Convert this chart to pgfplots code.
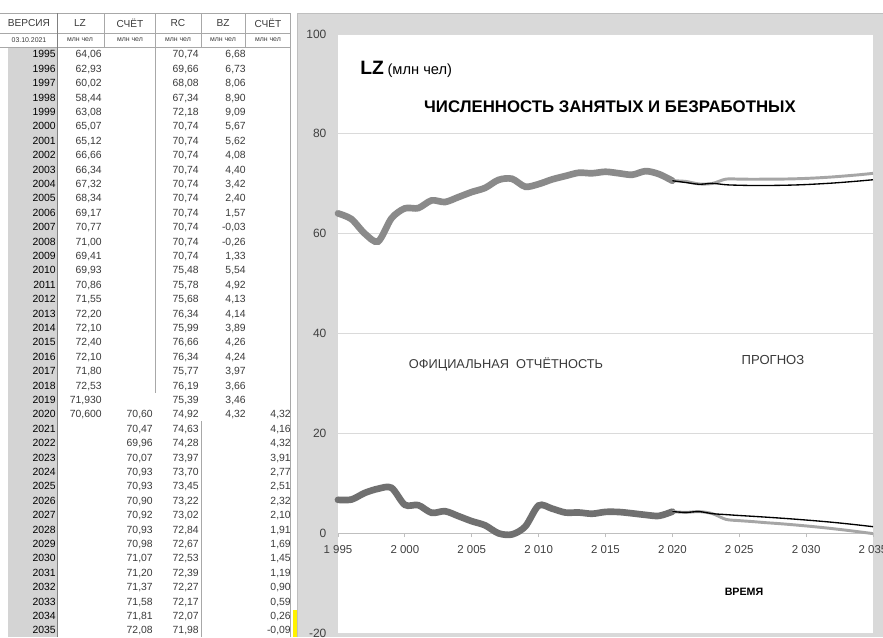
\documentclass[border=0pt]{standalone}
\usepackage{pgfplots}
\pgfplotsset{compat=1.18}
\usepackage{fontspec}
\setmainfont{Liberation Sans}
\definecolor{framegray}{HTML}{D9D9D9}
\definecolor{framebord}{HTML}{BFBFBF}
\definecolor{gridgray}{HTML}{DADADA}
\definecolor{lzgray}{HTML}{8A8A8A}
\definecolor{bzgray}{HTML}{707070}
\definecolor{fcgray}{HTML}{A6A6A6}
\definecolor{tabtext}{HTML}{3A3A3A}
\definecolor{ticktext}{HTML}{404040}
\definecolor{yearbg}{HTML}{D4D4D4}
\definecolor{tabline}{HTML}{A8A8A8}

\pgfplotstableread{
x y
1995 64.06
1996 62.93
1997 60.02
1998 58.44
1999 63.08
2000 65.07
2001 65.12
2002 66.66
2003 66.34
2004 67.32
2005 68.34
2006 69.17
2007 70.77
2008 71.00
2009 69.41
2010 69.93
2011 70.86
2012 71.55
2013 72.20
2014 72.10
2015 72.40
2016 72.10
2017 71.80
2018 72.53
2019 71.93
2020 70.60
}\lzoff
\pgfplotstableread{
x y
1995 6.68
1996 6.73
1997 8.06
1998 8.90
1999 9.09
2000 5.67
2001 5.62
2002 4.08
2003 4.40
2004 3.42
2005 2.40
2006 1.57
2007 -0.03
2008 -0.26
2009 1.33
2010 5.54
2011 4.92
2012 4.13
2013 4.14
2014 3.89
2015 4.26
2016 4.24
2017 3.97
2018 3.66
2019 3.46
2020 4.32
}\bzoff
\pgfplotstableread{
x y
2020 70.60
2021 70.47
2022 69.96
2023 70.07
2024 70.93
2025 70.93
2026 70.90
2027 70.92
2028 70.93
2029 70.98
2030 71.07
2031 71.20
2032 71.37
2033 71.58
2034 71.81
2035 72.08
}\lzcalc
\pgfplotstableread{
x y
2020 4.32
2021 4.16
2022 4.32
2023 3.91
2024 2.77
2025 2.51
2026 2.32
2027 2.10
2028 1.91
2029 1.69
2030 1.45
2031 1.19
2032 0.90
2033 0.59
2034 0.26
2035 -0.09
}\bzcalc
\pgfplotstableread{
x y
2020 70.60
2021 70.25
2022 69.90
2023 70.07
2024 69.80
2025 69.70
2026 69.65
2027 69.65
2028 69.68
2029 69.74
2030 69.84
2031 69.98
2032 70.14
2033 70.34
2034 70.56
2035 70.80
}\lzalt
\pgfplotstableread{
x y
2020 4.32
2021 4.16
2022 4.32
2023 3.91
2024 3.72
2025 3.54
2026 3.38
2027 3.21
2028 3.03
2029 2.84
2030 2.63
2031 2.41
2032 2.17
2033 1.90
2034 1.61
2035 1.30
}\bzalt

\tikzset{tv/.style={anchor=base east, inner sep=0pt, font=\fontsize{7.8}{8}\selectfont, text=tabtext}}
\newcommand\trow[7]{%
 \pgfmathsetmacro\ty{637-(54.2+14.4*#1)-3.7}%
 \node[tv,text=black] at (56,\ty) {#2};
 \node[tv] at (102,\ty) {#3};
 \node[tv] at (153,\ty) {#4};
 \node[tv] at (199,\ty) {#5};
 \node[tv] at (246,\ty) {#6};
 \node[tv] at (291,\ty) {#7};}

\begin{document}
\begin{tikzpicture}
\begin{scope}[x=0.75pt,y=0.75pt]
% ---- chart frame
\fill[framegray] (297,0) rectangle (883,624);
\draw[framebord, line width=0.6pt] (297,0) -- (297,624) -- (883,624);
\fill[yellow] (293,0) rectangle (297,27);
\end{scope}

\begin{axis}[
  at={(253.5pt,3pt)}, anchor=south west, scale only axis,
  width=401.25pt, height=449.25pt,
  xmin=1995, xmax=2035, ymin=-20, ymax=100,
  axis background/.style={fill=white},
  axis x line=middle, axis y line=left,
  hide obscured x ticks=false,
  axis line style={-, draw=framebord, line width=0.6pt},
  y axis line style={draw=none},
  xtick={1995,2000,...,2035},
  xticklabels={1 995,2 000,2 005,2 010,2 015,2 020,2 025,2 030,2 035},
  ytick={-20,0,20,40,60,80,100},
  yticklabels={-20,0,20,40,60,80,100},
  x tick style={draw=framebord, line width=0.6pt},
  xtick align=outside, major tick length=3pt,
  ytick style={draw=none},
  ymajorgrids, major grid style={draw=gridgray, line width=0.6pt},
  x tick label style={font=\fontsize{8.6}{9}\selectfont, text=ticktext, inner sep=0pt, yshift=-6pt},
  y tick label style={font=\fontsize{9}{9}\selectfont, text=ticktext, inner sep=0pt, xshift=-7pt},
  clip=false,
]
\addplot[lzgray, line width=5pt, smooth, line cap=round] table {\lzoff};
\addplot[bzgray, line width=5pt, smooth, line cap=round] table {\bzoff};
\addplot[fcgray, line width=2.2pt, smooth] table {\lzcalc};
\addplot[fcgray, line width=2.2pt, smooth] table {\bzcalc};
\addplot[black, line width=1pt, smooth] table {\lzalt};
\addplot[black, line width=1pt, smooth] table {\bzalt};
\end{axis}

\begin{scope}[x=0.75pt,y=0.75pt]
% ---- chart texts
\node[anchor=base west, inner sep=0pt] at (360,562) {{\fontsize{14.5}{14}\selectfont\bfseries LZ} {\fontsize{11}{11}\selectfont (млн чел)}};
\node[inner sep=0pt, font=\fontsize{12.6}{12}\selectfont\bfseries] at (610,530) {ЧИСЛЕННОСТЬ ЗАНЯТЫХ И БЕЗРАБОТНЫХ};
\node[inner sep=0pt, font=\fontsize{9.6}{10}\selectfont, text=tabtext] at (506,273) {ОФИЦИАЛЬНАЯ\ \ ОТЧЁТНОСТЬ};
\node[inner sep=0pt, font=\fontsize{9.8}{10}\selectfont, text=tabtext] at (773,277) {ПРОГНОЗ};
\node[inner sep=0pt, font=\fontsize{8}{9}\selectfont\bfseries] at (744,45) {ВРЕМЯ};

% ---- table
\fill[yearbg] (8,0) rectangle (57,590);
\draw[tabline, line width=0.5pt] (0,624) -- (290,624) (0,604) -- (290,604) (0,590) -- (290,590);
\foreach \xx in {104,155,201,245,290} {\draw[tabline, line width=0.5pt] (\xx,590) -- (\xx,624);}
\draw[gray, line width=0.6pt] (57,0) -- (57,624);
\draw[tabline, line width=0.6pt] (155,590) -- (155,244);
\draw[tabline, line width=0.6pt] (201,215.6) -- (201,0);
\draw[tabline, line width=0.6pt] (290,0) -- (290,624);
\node[inner sep=0pt, font=\fontsize{7.6}{8}\selectfont, text=tabtext] at (29,614) {ВЕРСИЯ};
\node[inner sep=0pt, font=\fontsize{7.6}{8}\selectfont, text=tabtext] at (80,614) {LZ};
\node[inner sep=0pt, font=\fontsize{7.6}{8}\selectfont, text=tabtext] at (130,614) {СЧЁТ};
\node[inner sep=0pt, font=\fontsize{7.6}{8}\selectfont, text=tabtext] at (178,614) {RC};
\node[inner sep=0pt, font=\fontsize{7.6}{8}\selectfont, text=tabtext] at (223,614) {BZ};
\node[inner sep=0pt, font=\fontsize{7.6}{8}\selectfont, text=tabtext] at (268,614) {СЧЁТ};
\node[inner sep=0pt, font=\fontsize{5.2}{6}\selectfont, text=tabtext] at (29,597) {03.10.2021};
\foreach \xx in {80,130,178,223,268} {\node[inner sep=0pt, font=\fontsize{5.2}{6}\selectfont, text=tabtext] at (\xx,597) {млн чел};}
\trow{0}{1995}{64,06}{}{70,74}{6,68}{}
\trow{1}{1996}{62,93}{}{69,66}{6,73}{}
\trow{2}{1997}{60,02}{}{68,08}{8,06}{}
\trow{3}{1998}{58,44}{}{67,34}{8,90}{}
\trow{4}{1999}{63,08}{}{72,18}{9,09}{}
\trow{5}{2000}{65,07}{}{70,74}{5,67}{}
\trow{6}{2001}{65,12}{}{70,74}{5,62}{}
\trow{7}{2002}{66,66}{}{70,74}{4,08}{}
\trow{8}{2003}{66,34}{}{70,74}{4,40}{}
\trow{9}{2004}{67,32}{}{70,74}{3,42}{}
\trow{10}{2005}{68,34}{}{70,74}{2,40}{}
\trow{11}{2006}{69,17}{}{70,74}{1,57}{}
\trow{12}{2007}{70,77}{}{70,74}{-0,03}{}
\trow{13}{2008}{71,00}{}{70,74}{-0,26}{}
\trow{14}{2009}{69,41}{}{70,74}{1,33}{}
\trow{15}{2010}{69,93}{}{75,48}{5,54}{}
\trow{16}{2011}{70,86}{}{75,78}{4,92}{}
\trow{17}{2012}{71,55}{}{75,68}{4,13}{}
\trow{18}{2013}{72,20}{}{76,34}{4,14}{}
\trow{19}{2014}{72,10}{}{75,99}{3,89}{}
\trow{20}{2015}{72,40}{}{76,66}{4,26}{}
\trow{21}{2016}{72,10}{}{76,34}{4,24}{}
\trow{22}{2017}{71,80}{}{75,77}{3,97}{}
\trow{23}{2018}{72,53}{}{76,19}{3,66}{}
\trow{24}{2019}{71,930}{}{75,39}{3,46}{}
\trow{25}{2020}{70,600}{70,60}{74,92}{4,32}{4,32}
\trow{26}{2021}{}{70,47}{74,63}{}{4,16}
\trow{27}{2022}{}{69,96}{74,28}{}{4,32}
\trow{28}{2023}{}{70,07}{73,97}{}{3,91}
\trow{29}{2024}{}{70,93}{73,70}{}{2,77}
\trow{30}{2025}{}{70,93}{73,45}{}{2,51}
\trow{31}{2026}{}{70,90}{73,22}{}{2,32}
\trow{32}{2027}{}{70,92}{73,02}{}{2,10}
\trow{33}{2028}{}{70,93}{72,84}{}{1,91}
\trow{34}{2029}{}{70,98}{72,67}{}{1,69}
\trow{35}{2030}{}{71,07}{72,53}{}{1,45}
\trow{36}{2031}{}{71,20}{72,39}{}{1,19}
\trow{37}{2032}{}{71,37}{72,27}{}{0,90}
\trow{38}{2033}{}{71,58}{72,17}{}{0,59}
\trow{39}{2034}{}{71,81}{72,07}{}{0,26}
\trow{40}{2035}{}{72,08}{71,98}{}{-0,09}
\end{scope}
\pgfresetboundingbox
\path[use as bounding box] (0,0) rectangle (662.25pt,477.75pt);
\end{tikzpicture}
\end{document}
